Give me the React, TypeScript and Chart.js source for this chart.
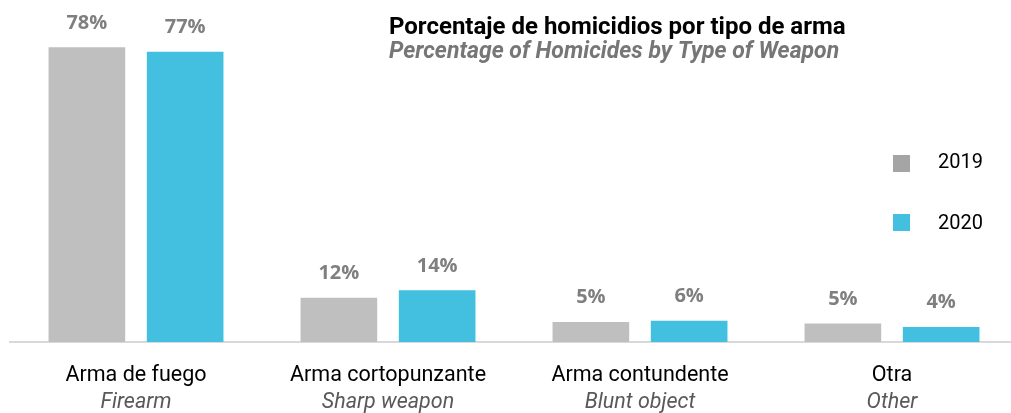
import React, { useEffect, useRef } from "react";
import { Chart, registerables } from "chart.js";

Chart.register(...registerables);

const categoriesEs = ["Arma de fuego", "Arma cortopunzante", "Arma contundente", "Otra"];
const categoriesEn = ["Firearm", "Sharp weapon", "Blunt object", "Other"];
const values2019 = [78, 11.7, 5.3, 4.9];
const values2020 = [76.8, 13.7, 5.6, 4.0];
const seriesNames = ["2019", "2020"];
const titleEs = "Porcentaje de homicidios por tipo de arma";
const titleEn = "Percentage of Homicides by Type of Weapon";

const COLOR_2019 = "#BFBFBF";
const COLOR_2020 = "#43BFE0";
const LEGEND_2019 = "#A5A5A5";

const overlayPlugin = {
  id: "overlay",
  afterDraw(chart: any) {
    const ctx = chart.ctx;
    const xScale = chart.scales.x;
    ctx.save();
    // value labels
    ctx.font = "bold 20px 'Open Sans'";
    ctx.fillStyle = "#7F7F7F";
    ctx.textAlign = "center";
    ctx.textBaseline = "alphabetic";
    chart.data.datasets.forEach((ds: any, di: number) => {
      const meta = chart.getDatasetMeta(di);
      meta.data.forEach((el: any, i: number) => {
        ctx.fillText(Math.round(ds.data[i]) + "%", el.x, el.y - 18.5);
      });
    });
    // category labels
    categoriesEs.forEach((c, i) => {
      const x = xScale.getPixelForValue(i);
      ctx.font = "21.5px Roboto";
      ctx.fillStyle = "#000000";
      ctx.fillText(c, x, 380.5);
      ctx.font = "italic 21.5px Roboto";
      ctx.fillStyle = "#595959";
      ctx.fillText(categoriesEn[i], x, 408);
    });
    // title
    ctx.textAlign = "left";
    ctx.font = "bold 24px Roboto";
    ctx.fillStyle = "#000000";
    ctx.fillText(titleEs, 389, 34);
    ctx.font = "italic bold 23px Roboto";
    ctx.fillStyle = "#767676";
    ctx.fillText(titleEn, 389, 58);
    // legend
    const legendColors = [LEGEND_2019, COLOR_2020];
    const legendTops = [155, 214];
    const legendBase = [168, 229];
    seriesNames.forEach((s, i) => {
      ctx.fillStyle = legendColors[i];
      ctx.fillRect(893, legendTops[i], 17, 17);
      ctx.font = "20px Roboto";
      ctx.fillStyle = "#000000";
      ctx.fillText(s, 938, legendBase[i]);
    });
    ctx.restore();
  },
};

export default function App() {
  const ref = useRef<HTMLCanvasElement | null>(null);
  useEffect(() => {
    if (!ref.current) return;
    const chart = new Chart(ref.current, {
      type: "bar",
      data: {
        labels: categoriesEs,
        datasets: [
          { label: seriesNames[0], data: values2019, backgroundColor: COLOR_2019, borderWidth: 0 },
          { label: seriesNames[1], data: values2020, backgroundColor: COLOR_2020, borderWidth: 0 },
        ],
      },
      options: {
        animation: false,
        responsive: false,
        maintainAspectRatio: false,
        layout: { padding: { left: 10, right: 2, top: 2, bottom: 71 } },
        datasets: { bar: { categoryPercentage: 0.78, barPercentage: 0.78 } },
        plugins: { legend: { display: false }, tooltip: { enabled: false }, title: { display: false } },
        scales: {
          x: {
            display: true,
            grid: { display: false, drawTicks: false },
            border: { display: true, color: "#D9D9D9", width: 2 },
            ticks: { display: false },
          },
          y: { display: false, min: 0, max: 90 },
        },
      },
      plugins: [overlayPlugin],
    });
    return () => chart.destroy();
  }, []);
  return (
    <div style={{ position: "fixed", left: 0, top: 0, width: 1011, height: 413, overflow: "hidden", background: "#fff" }}>
      <canvas ref={ref} width={1020} height={413} style={{ display: "block" }} />
    </div>
  );
}
